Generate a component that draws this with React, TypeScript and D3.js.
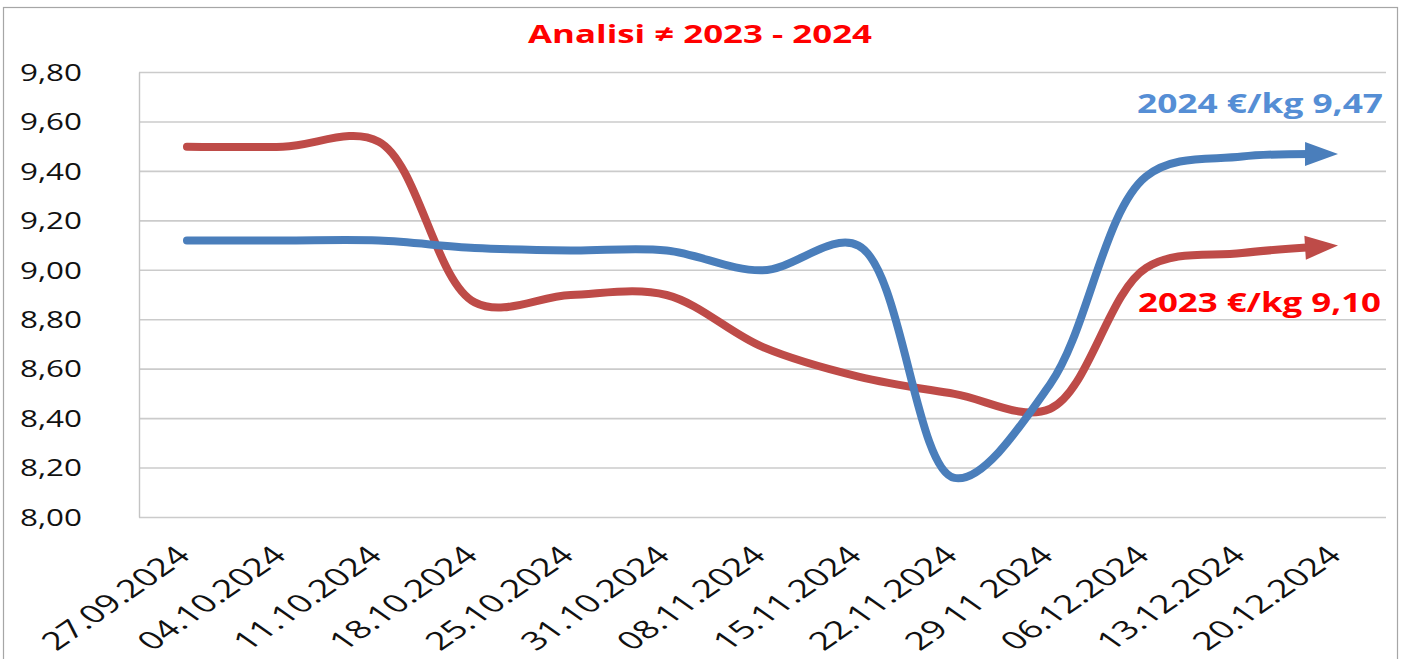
import React, { useEffect, useRef } from "react";
import * as d3 from "d3";

const categories = [
  "27.09.2024", "04.10.2024", "11.10.2024", "18.10.2024", "25.10.2024",
  "31.10.2024", "08.11.2024", "15.11.2024", "22.11.2024", "29 11 2024",
  "06.12.2024", "13.12.2024", "20.12.2024",
];
const values2024 = [9.12, 9.12, 9.12, 9.09, 9.08, 9.08, 9.0, 9.1, 8.16, 8.54, 9.38, 9.46, 9.47];
const values2023 = [9.5, 9.5, 9.52, 8.87, 8.9, 8.9, 8.69, 8.57, 8.5, 8.44, 9.01, 9.07, 9.1];
const yTickValues = [8.0, 8.2, 8.4, 8.6, 8.8, 9.0, 9.2, 9.4, 9.6, 9.8];
const yTickLabels = ["8,00", "8,20", "8,40", "8,60", "8,80", "9,00", "9,20", "9,40", "9,60", "9,80"];
const titleText = "Analisi \u2260 2023 - 2024";
const label2024 = "2024 \u20ac/kg 9,47";
const label2023 = "2023 \u20ac/kg 9,10";

const W = 1403;
const H = 659;
const FONT = "'Open Sans', 'DejaVu Sans', sans-serif";

export default function App() {
  const ref = useRef<SVGSVGElement | null>(null);

  useEffect(() => {
    const svg = d3.select(ref.current);
    svg.selectAll("*").remove();

    const x = d3.scalePoint<string>().domain(categories).range([139, 1386]).padding(0.5);
    const y = d3.scaleLinear().domain([8, 9.8]).range([517.5, 72.5]);

    // outer frame
    svg.append("rect")
      .attr("x", 3.5).attr("y", 7.5).attr("width", 1394).attr("height", 700)
      .attr("fill", "#fff").attr("stroke", "#a6a6a6").attr("stroke-width", 1.2);

    // gridlines
    svg.append("g").selectAll("line").data(yTickValues).join("line")
      .attr("x1", 139).attr("x2", 1386)
      .attr("y1", (d) => y(d)).attr("y2", (d) => y(d))
      .attr("stroke", "#cbcbcb").attr("stroke-width", 1.6);
    // left axis
    svg.append("line").attr("x1", 139.5).attr("x2", 139.5)
      .attr("y1", y(9.8)).attr("y2", y(8))
      .attr("stroke", "#c4c4c4").attr("stroke-width", 1.4);

    // y labels
    svg.append("g").selectAll("text").data(yTickValues).join("text")
      .attr("x", 20).attr("y", (d) => y(d))
      .attr("dy", "0.36em")
      .attr("textLength", 62).attr("lengthAdjust", "spacingAndGlyphs")
      .attr("font-family", FONT).attr("font-size", 23).attr("fill", "#111")
      .text((d, i) => yTickLabels[i]);

    // x labels
    svg.append("g").selectAll("text").data(categories).join("text")
      .attr("transform", (d) => `translate(${(x(d) as number) + 5},557) scale(1.43,1) rotate(-45)`)
      .attr("text-anchor", "end")
      .attr("textLength", 134).attr("lengthAdjust", "spacingAndGlyphs")
      .attr("font-family", FONT).attr("font-size", 25).attr("fill", "#111")
      .text((d) => d);

    // title
    svg.append("text").attr("x", 528).attr("y", 43)
      .attr("textLength", 344).attr("lengthAdjust", "spacingAndGlyphs")
      .attr("font-family", FONT).attr("font-weight", "bold").attr("font-size", 25)
      .attr("fill", "#ff0000").text(titleText);

    const line = d3.line<number>()
      .x((d, i) => x(categories[i]) as number)
      .y((d) => y(d))
      .curve(d3.curveCatmullRom.alpha(0.5));

    const series = [
      { values: values2023, color: "#be4b48" },
      { values: values2024, color: "#4a7ebb" },
    ];
    series.forEach((s) => {
      const p = svg.append("path")
        .attr("d", line(s.values) as string)
        .attr("fill", "none").attr("stroke", s.color).attr("stroke-width", 8)
        .attr("stroke-linecap", "round").attr("stroke-linejoin", "round");
      const node = p.node() as SVGPathElement;
      const L = node.getTotalLength();
      const headLen = 33;
      const half = 12;
      p.attr("stroke-dasharray", `${L - 28} ${L + 20}`);
      const tip = node.getPointAtLength(L);
      const back = node.getPointAtLength(L - headLen);
      const ang = Math.atan2(tip.y - back.y, tip.x - back.x);
      const bx = tip.x - headLen * Math.cos(ang);
      const by = tip.y - headLen * Math.sin(ang);
      const nx = -Math.sin(ang), ny = Math.cos(ang);
      svg.append("polygon")
        .attr("points", `${tip.x},${tip.y} ${bx + nx * half},${by + ny * half} ${bx - nx * half},${by - ny * half}`)
        .attr("fill", s.color);
    });

    // series labels
    svg.append("text").attr("x", 1137).attr("y", 113)
      .attr("textLength", 246).attr("lengthAdjust", "spacingAndGlyphs")
      .attr("font-family", FONT).attr("font-weight", "bold").attr("font-size", 26)
      .attr("fill", "#558ed5").text(label2024);
    svg.append("text").attr("x", 1138).attr("y", 312)
      .attr("textLength", 243).attr("lengthAdjust", "spacingAndGlyphs")
      .attr("font-family", FONT).attr("font-weight", "bold").attr("font-size", 26)
      .attr("fill", "#ff0000").text(label2023);
  }, []);

  return (
    <svg
      ref={ref}
      width={W}
      height={H}
      style={{ position: "absolute", left: 0, top: 0, background: "#fff" }}
    />
  );
}
